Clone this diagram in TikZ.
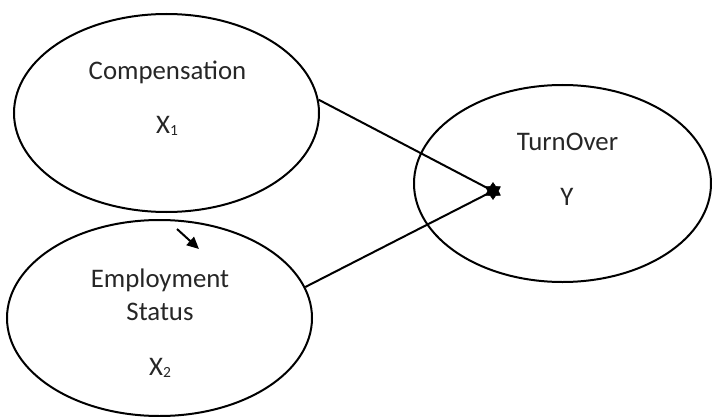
\documentclass[tikz,border=0pt]{standalone}
\usepackage{fontspec}
\setmainfont{Carlito}
\usetikzlibrary{shapes.geometric,arrows.meta}
\tikzset{
  oval/.style={draw=black, line width=2pt, ellipse, inner sep=0pt},
  lbl/.style={anchor=base, inner sep=0pt, font=\fontsize{26.8}{32}\selectfont, text=black!85},
  conn/.style={draw=black, line width=2pt},
  starmark/.style={star, star points=6, star point ratio=1.6, fill=black, draw=black, line width=0.5pt, minimum size=17pt, inner sep=0pt}
}
\newcommand{\subsc}[1]{\raisebox{-2.5pt}{\fontsize{15.5}{16}\selectfont #1}}
\begin{document}
\begin{tikzpicture}[x=1pt,y=1pt]
\useasboundingbox (0,0) rectangle (712,416);
\clip (0,0) rectangle (712,416);
\node[oval, minimum width=305pt, minimum height=198pt] (c1) at (166.5,303) {};
\node[oval, minimum width=305pt, minimum height=196pt] (c2) at (159.5,98) {};
\node[oval, minimum width=297pt, minimum height=197pt] (c3) at (562.5,232.5) {};
\node[lbl] (t1) at (167.5,337) {Compensation};
\node[lbl] (t1b) at (167,283) {X\subsc{1}};
\node[lbl] (t3) at (567.5,266) {TurnOver};
\node[lbl] (t3b) at (567,211) {Y};
\node[lbl] (t2) at (160,129) {Employment};
\node[lbl] (t2b) at (160,96) {Status};
\node[lbl] (t2c) at (160,41) {X\subsc{2}};
\node[starmark] (s) at (493,225) {};
\draw[conn] (c1.5) -- (s.center);
\draw[conn] (c2.12) -- (s.center);
\coordinate (a1) at (177,187);
\coordinate (a2) at (199,167);
\draw[conn, -{Triangle[length=12pt,width=11pt]}] (a1) -- (a2);
\end{tikzpicture}
\end{document}
